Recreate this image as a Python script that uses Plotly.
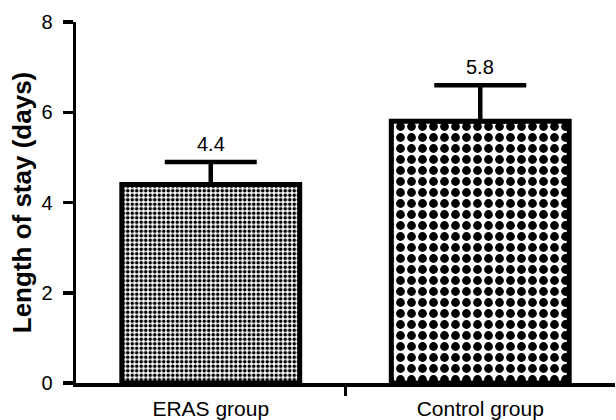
import plotly.graph_objects as go

categories = ["ERAS group", "Control group"]
means = [4.4, 5.8]
sd_upper = [0.5, 0.8]
value_labels = ["4.4", "5.8"]
y_ticks = [0, 2, 4, 6, 8]
pattern_sizes = [4.5, 11]

xpos = list(range(len(categories)))
FONT = "Liberation Sans, Arial, sans-serif"

fig = go.Figure()
fig.add_trace(go.Bar(
    x=xpos, y=means, width=0.66,
    marker=dict(
        color="white",
        line=dict(color="black", width=5),
        pattern=dict(shape=".", fgcolor="black", bgcolor="white", fgopacity=1,
                     size=pattern_sizes, solidity=0.5, fillmode="overlay"),
    ),
    error_y=dict(type="data", array=sd_upper, arrayminus=[0, 0], symmetric=False,
                 color="black", thickness=4.5, width=46),
    showlegend=False, hoverinfo="skip",
))

for x, m, s, t in zip(xpos, means, sd_upper, value_labels):
    fig.add_annotation(x=x, y=m + s, text=t, showarrow=False, yanchor="bottom", yshift=5,
                       font=dict(family=FONT, size=20, color="black"))

fig.update_layout(
    width=616, height=420,
    margin=dict(l=76, r=1, t=22, b=37),
    paper_bgcolor="white", plot_bgcolor="white",
    font=dict(family=FONT, size=20, color="black"),
)
fig.update_xaxes(
    range=[-0.5, 1.5], tickvals=xpos, ticktext=categories, ticks="",
    showline=True, linecolor="black", linewidth=3.5, showgrid=False, zeroline=False,
    minor=dict(tickvals=[0.5], ticks="outside", ticklen=9, tickwidth=3, tickcolor="black", showgrid=False),
    tickfont=dict(size=21), ticklabelstandoff=4,
)
fig.update_yaxes(
    range=[0, 8], tickvals=y_ticks, ticks="outside", ticklen=10, tickwidth=3.5, tickcolor="black",
    showline=True, linecolor="black", linewidth=3.5, showgrid=False, zeroline=False,
    tickfont=dict(size=20), ticklabelstandoff=6,
    title=dict(text="<b>Length of stay (days)</b>", font=dict(size=26), standoff=3),
)

fig.write_html("out.html", config={"displayModeBar": False, "staticPlot": True})

with open("out.html", "r", encoding="utf-8") as f:
    html = f.read()
html = html.replace("<head>", "<head><style>html,body{margin:0;padding:0;overflow:hidden;}</style>", 1)
with open("out.html", "w", encoding="utf-8") as f:
    f.write(html)
